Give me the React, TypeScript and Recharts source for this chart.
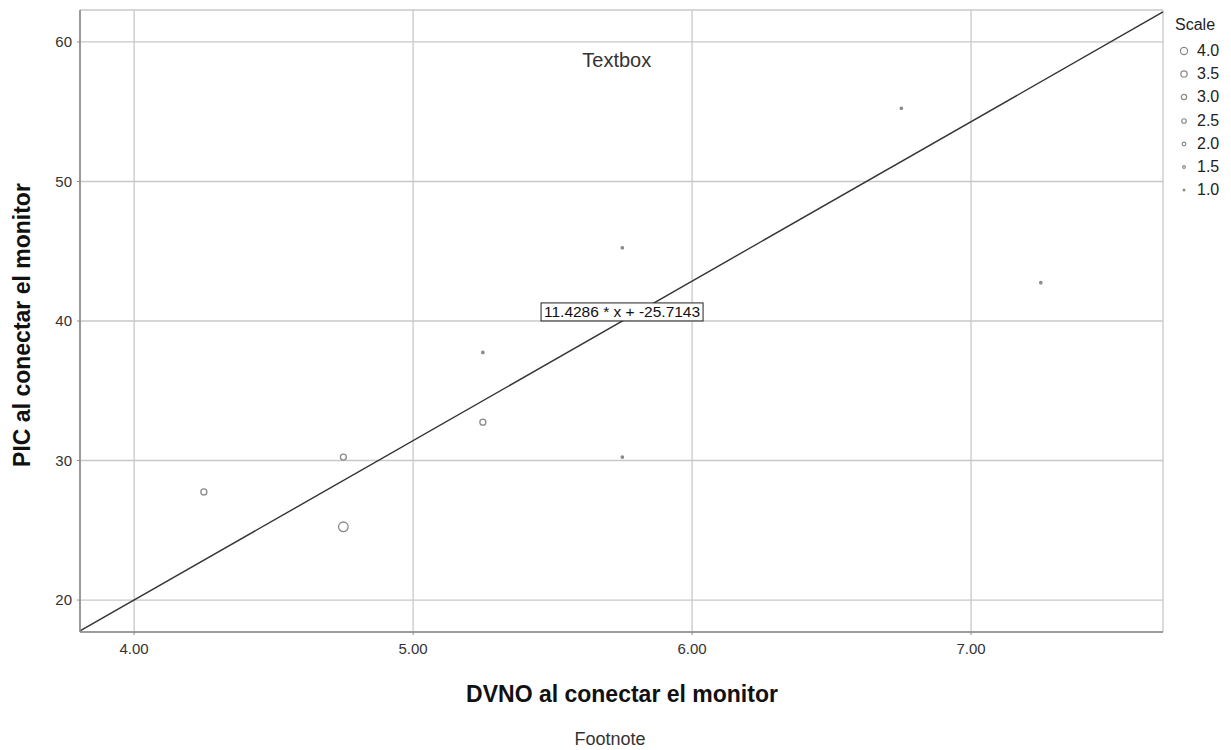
import {
  CartesianGrid,
  ReferenceDot,
  ReferenceLine,
  Scatter,
  ScatterChart,
  XAxis,
  YAxis,
} from 'recharts';

const dvno = [4.25, 4.75, 4.75, 5.25, 5.25, 5.75, 5.75, 6.75, 7.25];
const pic = [27.75, 30.25, 25.25, 32.75, 37.75, 45.25, 30.25, 55.25, 42.75];
const scale = [2.5, 2.5, 4.0, 2.5, 1.0, 1.0, 1.0, 1.0, 1.0];

const xTicks = [4, 5, 6, 7];
const yTicks = [20, 30, 40, 50, 60];
const legendScale = [4.0, 3.5, 3.0, 2.5, 2.0, 1.5, 1.0];

const slope = 11.4286;
const intercept = -25.7143;
const X_DOMAIN: [number, number] = [3.806, 7.688];
const Y_DOMAIN: [number, number] = [17.71, 62.29];

const FONT = '"Liberation Sans", Arial, sans-serif';
const MARK = '#8a8a8a';

const points = dvno.map((x, i) => ({ x, y: pic[i], scale: scale[i] }));

function ScaleLegend() {
  return (
    <div style={{ position: 'absolute', left: 1166, top: 14, fontSize: 16, color: '#222' }}>
      <div style={{ marginLeft: 9, height: 25, lineHeight: '22px' }}>Scale</div>
      {legendScale.map(s => (
        <div key={s} style={{ display: 'flex', alignItems: 'center', height: 23.3 }}>
          <svg width={31} height={20}>
            <circle cx={18} cy={10} r={s * 0.9} fill="none" stroke={MARK} strokeWidth={1.2} />
          </svg>
          <span>{s.toFixed(1)}</span>
        </div>
      ))}
    </div>
  );
}

export default function App() {
  return (
    <div style={{ position: 'absolute', left: 0, top: 0, width: 1231, height: 750, fontFamily: FONT }}>
      <ScatterChart width={1231} height={750} margin={{ top: 10, right: 68, bottom: 58, left: 0 }}>
        <CartesianGrid stroke="#c8c8c8" strokeWidth={1.3} horizontal vertical />
        <XAxis
          type="number"
          dataKey="x"
          domain={X_DOMAIN}
          ticks={xTicks}
          allowDataOverflow
          height={60}
          tickFormatter={v => v.toFixed(2)}
          tick={{ fontSize: 15, fill: '#333', fontFamily: FONT }}
          tickSize={3}
          tickMargin={8}
          axisLine={{ stroke: MARK, strokeWidth: 1.6 }}
          tickLine={{ stroke: MARK }}
        />
        <YAxis
          type="number"
          dataKey="y"
          domain={Y_DOMAIN}
          ticks={yTicks}
          allowDataOverflow
          width={80}
          tick={{ fontSize: 15, fill: '#333', fontFamily: FONT }}
          tickSize={3}
          tickMargin={5}
          axisLine={{ stroke: MARK, strokeWidth: 1.6 }}
          tickLine={{ stroke: MARK }}
        />
        <ReferenceLine
          segment={[
            { x: X_DOMAIN[0], y: slope * X_DOMAIN[0] + intercept },
            { x: X_DOMAIN[1], y: slope * X_DOMAIN[1] + intercept },
          ]}
          stroke="#333"
          strokeWidth={1.4}
        />
        <Scatter
          data={points}
          isAnimationActive={false}
          shape={(p: any) => (
            <circle
              cx={p.cx}
              cy={p.cy}
              r={p.payload.scale * 1.2}
              fill={p.payload.scale <= 1 ? MARK : 'none'}
              stroke={MARK}
              strokeWidth={1.3}
            />
          )}
        />
        <ReferenceDot
          x={5.749}
          y={40.65}
          r={0}
          shape={(p: any) => (
            <g>
              <rect x={p.cx - 81} y={p.cy - 9} width={162} height={18} fill="#fff" stroke="#222" strokeWidth={1} />
              <text x={p.cx} y={p.cy + 5.5} textAnchor="middle" fontSize={15.5} fill="#111" fontFamily={FONT}>
                11.4286 * x + -25.7143
              </text>
            </g>
          )}
        />
        <ReferenceDot
          x={5.73}
          y={58.7}
          r={0}
          shape={(p: any) => (
            <text x={p.cx} y={p.cy + 7} textAnchor="middle" fontSize={20} fill="#333" fontFamily={FONT}>
              Textbox
            </text>
          )}
        />
      </ScatterChart>
      <ScaleLegend />
      <div
        style={{
          position: 'absolute',
          left: 622,
          top: 694,
          transform: 'translate(-50%, -50%)',
          whiteSpace: 'nowrap',
          fontSize: 23,
          fontWeight: 'bold',
          color: '#111',
        }}
      >
        DVNO al conectar el monitor
      </div>
      <div
        style={{
          position: 'absolute',
          left: 22,
          top: 325,
          transform: 'translate(-50%, -50%) rotate(-90deg)',
          whiteSpace: 'nowrap',
          fontSize: 23,
          fontWeight: 'bold',
          color: '#111',
        }}
      >
        PIC al conectar el monitor
      </div>
      <div
        style={{
          position: 'absolute',
          left: 610,
          top: 739,
          transform: 'translate(-50%, -50%)',
          whiteSpace: 'nowrap',
          fontSize: 18,
          color: '#333',
        }}
      >
        Footnote
      </div>
    </div>
  );
}
